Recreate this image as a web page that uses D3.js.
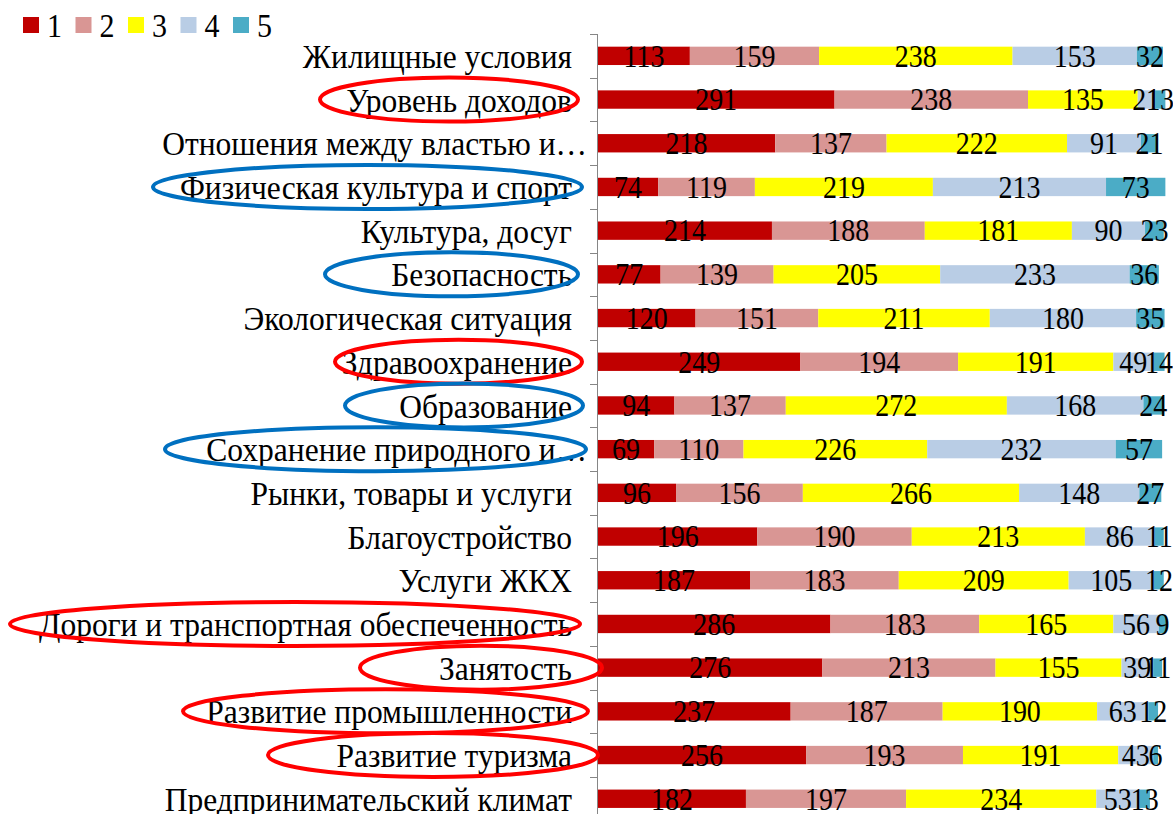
<!DOCTYPE html>
<html>
<head>
<meta charset="utf-8">
<title>Оценка сфер жизни</title>
<script src="https://d3js.org/d3.v7.min.js"></script>
<style>
  body { margin: 0; background: #fff; }
  .axis line { stroke: #868686; stroke-width: 1px; }
</style>
</head>
<body>
<script>
// categories top to bottom
const categories = [
  "Жилищные условия",
  "Уровень доходов",
  "Отношения между властью и…",
  "Физическая культура и спорт",
  "Культура, досуг",
  "Безопасность",
  "Экологическая ситуация",
  "Здравоохранение",
  "Образование",
  "Сохранение природного и…",
  "Рынки, товары и услуги",
  "Благоустройство",
  "Услуги ЖКХ",
  "Дороги и транспортная обеспеченность",
  "Занятость",
  "Развитие промышленности",
  "Развитие туризма",
  "Предпринимательский климат"
];
const seriesNames = ["1", "2", "3", "4", "5"];
const s1 = [113, 291, 218, 74, 214, 77, 120, 249, 94, 69, 96, 196, 187, 286, 276, 237, 256, 182];
const s2 = [159, 238, 137, 119, 188, 139, 151, 194, 137, 110, 156, 190, 183, 183, 213, 187, 193, 197];
const s3 = [238, 135, 222, 219, 181, 205, 211, 191, 272, 226, 266, 213, 209, 165, 155, 190, 191, 234];
const s4 = [153, 21, 91, 213, 90, 233, 180, 49, 168, 232, 148, 86, 105, 56, 39, 63, 43, 53];
const s5 = [32, 13, 21, 73, 23, 36, 35, 14, 24, 57, 27, 11, 12, 9, 11, 12, 6, 13];
const colors = ["#C00000", "#D99694", "#FFFF00", "#B9CDE5", "#4BACC6"];

// hand-drawn highlight ellipses: category, colour, left and right edge
const highlights = [
  ["Уровень доходов", "#FF0000", 320, 578],
  ["Физическая культура и спорт", "#0070C0", 153, 582],
  ["Безопасность", "#0070C0", 325, 578],
  ["Здравоохранение", "#FF0000", 335, 582],
  ["Образование", "#0070C0", 345, 583],
  ["Сохранение природного и…", "#0070C0", 165, 586],
  ["Дороги и транспортная обеспеченность", "#FF0000", 10, 580],
  ["Занятость", "#FF0000", 360, 602],
  ["Развитие промышленности", "#FF0000", 183, 588],
  ["Развитие туризма", "#FF0000", 268, 598]
];

const width = 1173, height = 814;
const font = "'Liberation Serif', 'Times New Roman', serif";
const stretch = 1.1; // the source text is a bit taller than wide
const seriesData = [s1, s2, s3, s4, s5];
const rows = categories.map((c, i) => {
  const r = { cat: c };
  seriesNames.forEach((s, j) => r[s] = seriesData[j][i]);
  return r;
});

const svg = d3.select("body").append("svg")
    .attr("width", width)
    .attr("height", height);

const x = d3.scaleLinear().domain([0, 700]).range([598, 1167]);
const y = d3.scaleBand().domain(categories).range([34, 820.6])
    .paddingInner(0.58).paddingOuter(0.29);

const stack = d3.stack().keys(seriesNames)(rows);

// bars
const layer = svg.selectAll(".layer")
    .data(stack)
    .enter().append("g")
    .attr("class", "layer")
    .attr("fill", (d, i) => colors[i]);

layer.selectAll("rect")
    .data(d => d)
    .enter().append("rect")
    .attr("x", d => x(d[0]))
    .attr("y", d => y(d.data.cat))
    .attr("width", d => x(d[1]) - x(d[0]))
    .attr("height", y.bandwidth());

// value labels
layer.selectAll("text")
    .data(d => d)
    .enter().append("text")
    .attr("transform", d => "translate(" + (x(d[0]) + x(d[1])) / 2 + "," +
        (y(d.data.cat) + y.bandwidth() / 2) + ") scale(1," + stretch + ")")
    .attr("dy", "0.35em")
    .attr("text-anchor", "middle")
    .style("font-family", font)
    .style("font-size", "28px")
    .attr("fill", "#000")
    .text(d => d[1] - d[0]);

// category axis: vertical line with ticks at band boundaries
const axis = svg.append("g").attr("class", "axis");
axis.append("line")
    .attr("x1", 597.5).attr("x2", 597.5)
    .attr("y1", y.range()[0]).attr("y2", y.range()[1]);
axis.selectAll(".tick")
    .data(d3.range(categories.length + 1))
    .enter().append("line")
    .attr("x1", 590).attr("x2", 597.5)
    .attr("y1", i => Math.round(y.range()[0] + i * y.step()) + 0.5)
    .attr("y2", i => Math.round(y.range()[0] + i * y.step()) + 0.5);

svg.selectAll(".cat")
    .data(categories)
    .enter().append("text")
    .attr("class", "cat")
    .attr("transform", d => "translate(" + (d.endsWith("…") ? 587 : 572) + "," +
        (y(d) + y.bandwidth() / 2) + ") scale(1," + stretch + ")")
    .attr("dy", "0.35em")
    .attr("text-anchor", "end")
    .style("font-family", font)
    .style("font-size", "31.5px")
    .attr("fill", "#000")
    .text(d => d);

// highlight ellipses
svg.selectAll(".hl")
    .data(highlights)
    .enter().append("ellipse")
    .attr("class", "hl")
    .attr("cx", d => (d[2] + d[3]) / 2)
    .attr("cy", d => y(d[0]) + y.bandwidth() / 2)
    .attr("rx", d => (d[3] - d[2]) / 2)
    .attr("ry", 22)
    .attr("fill", "none")
    .attr("stroke", d => d[1])
    .attr("stroke-width", 4);

// legend
const legend = svg.selectAll(".legend")
    .data(seriesNames)
    .enter().append("g")
    .attr("class", "legend")
    .attr("transform", (d, i) => "translate(" + (23 + i * 52.5) + ",17)");

legend.append("rect")
    .attr("width", 16).attr("height", 16)
    .attr("fill", (d, i) => colors[i]);

legend.append("text")
    .attr("transform", "translate(24,8) scale(1," + stretch + ")")
    .attr("dy", "0.35em")
    .style("font-family", font)
    .style("font-size", "30px")
    .attr("fill", "#000")
    .text(d => d);
</script>
</body>
</html>
